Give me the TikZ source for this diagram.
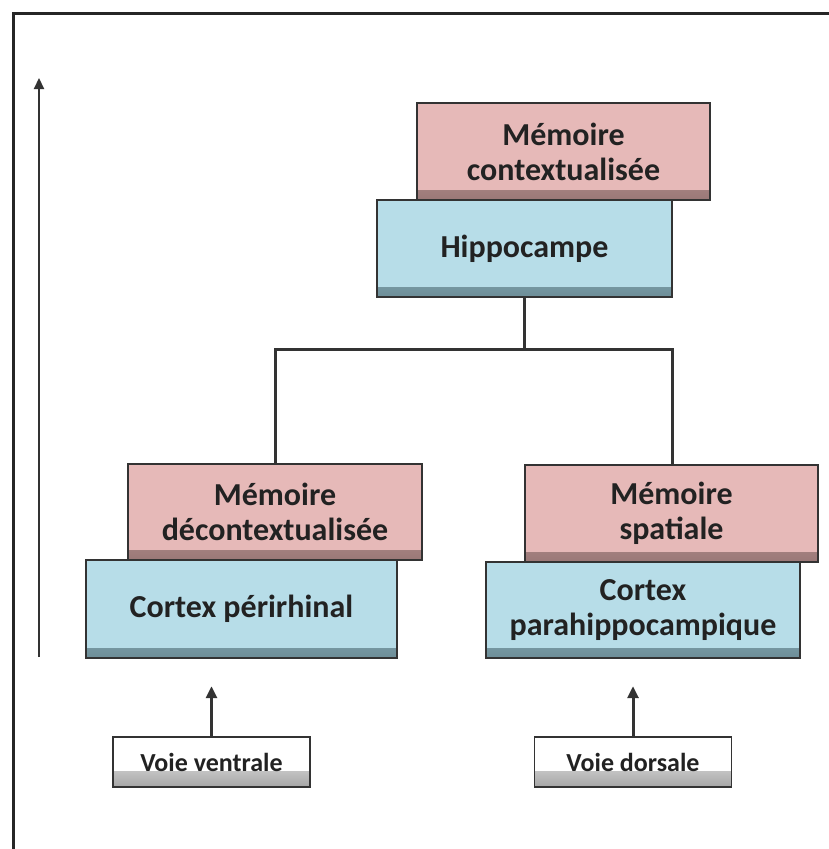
\documentclass[tikz,border=0pt]{standalone}
\usepackage{fontspec}
\setmainfont{Carlito}
\usetikzlibrary{arrows.meta}
\definecolor{pinkfill}{HTML}{E6B9B8}
\definecolor{pinkdark}{HTML}{9A7877}
\definecolor{bluefill}{HTML}{B7DDE8}
\definecolor{bluedark}{HTML}{6D8E98}
\definecolor{edge}{HTML}{333333}
\definecolor{txt}{HTML}{222222}
\tikzset{
  box/.style={draw=edge, line width=2.4pt, inner sep=0pt, align=center,
    text=txt, font=\fontsize{32}{35}\selectfont\bfseries},
  pinkbox/.style={box, fill=pinkfill,
    path picture={\shade[top color=pinkfill, bottom color=pinkdark]
      ([yshift=10pt]path picture bounding box.south west) rectangle (path picture bounding box.south east);}},
  bluebox/.style={box, fill=bluefill,
    path picture={\shade[top color=bluefill, bottom color=bluedark]
      ([yshift=10pt]path picture bounding box.south west) rectangle (path picture bounding box.south east);}},
  whitebox/.style={box, fill=white, line width=1.8pt, font=\fontsize{26}{28}\selectfont\bfseries,
    path picture={\shade[top color=white, bottom color=gray!70]
      ([yshift=16pt]path picture bounding box.south west) rectangle (path picture bounding box.south east);}},
  conn/.style={draw=edge, line width=3pt},
  arr/.style={draw=edge, line width=3pt, -{Triangle[length=12pt,width=11pt]}},
  thinarr/.style={draw=edge, line width=2.2pt, -{Triangle[length=11pt,width=10pt]}},
  frame/.style={draw=black!85, line width=3pt}
}
\begin{document}
\begin{tikzpicture}[x=1pt,y=-1pt]
\useasboundingbox (0,0) rectangle (828,849);
% frame
\coordinate (f1) at (13,851);
\coordinate (f2) at (13,13);
\coordinate (f3) at (830,13);
\draw[frame] (f1) -- (f2) -- (f3);
% left arrow
\coordinate (la1) at (39,657);
\coordinate (la2) at (39,78);
\draw[thinarr] (la1) -- (la2);
% top
\node[pinkbox, minimum width=293pt, minimum height=97pt] (mc) at (563.5,151.5) {Mémoire\\contextualisée};
\node[bluebox, minimum width=295pt, minimum height=97pt] (hip) at (524.5,248.5) {Hippocampe};
% left
\node[pinkbox, minimum width=294pt, minimum height=96pt] (md) at (275,512) {Mémoire\\décontextualisée};
\node[bluebox, minimum width=311pt, minimum height=98pt] (cp) at (241.5,609) {Cortex périrhinal};
% right
\node[pinkbox, minimum width=293pt, minimum height=97pt] (ms) at (671.5,513.5) {Mémoire\\spatiale};
\node[bluebox, minimum width=314pt, minimum height=96pt] (cph) at (643,610) {Cortex\\parahippocampique};
% connectors
\coordinate (bar) at (0,349);
\coordinate (cr) at (672,465);
\draw[conn] (hip.south) -- (hip.south |- bar);
\draw[conn] (md.north) -- (md.north |- bar) -- (cr |- bar) -- (cr);
% bottom boxes
\node[whitebox, minimum width=197pt, minimum height=50pt] (vv) at (211.5,762) {Voie ventrale};
\node[whitebox, minimum width=197pt, minimum height=50pt] (vd) at (633,762) {Voie dorsale};
\draw[arr, shorten >=27pt] (vv.north) -- (vv.north |- cp.south);
\draw[arr, shorten >=27pt] (vd.north) -- (vd.north |- cph.south);
\end{tikzpicture}
\end{document}
